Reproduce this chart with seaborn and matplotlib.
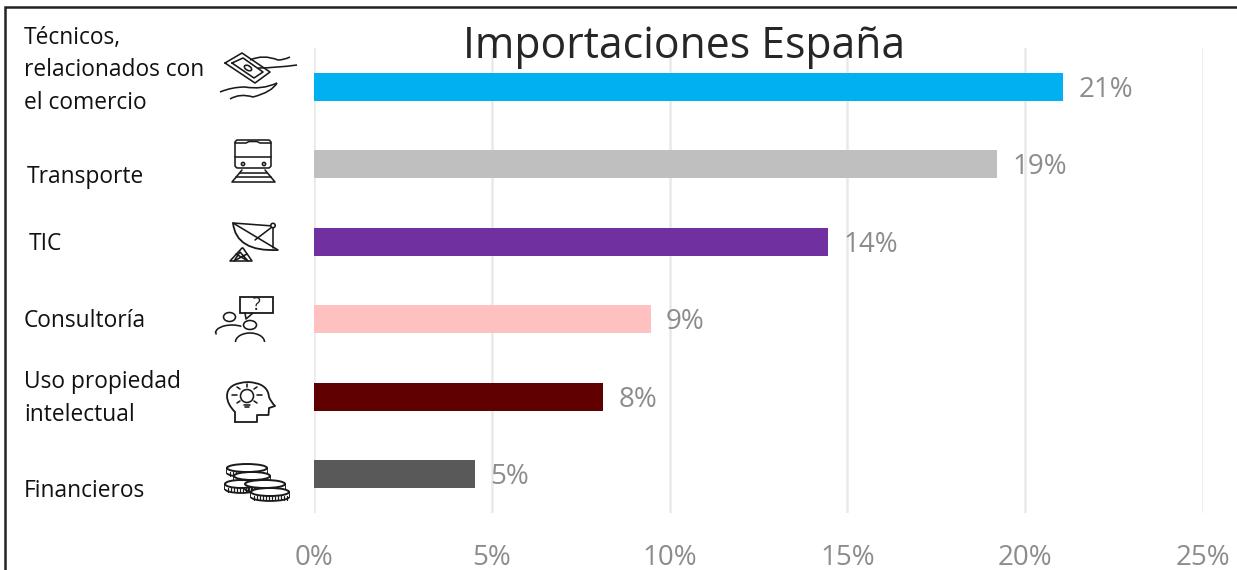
import matplotlib
matplotlib.use("Agg")
import matplotlib.pyplot as plt
import pandas as pd
import seaborn as sns
from matplotlib.path import Path
from matplotlib.patches import Circle, Ellipse, Arc, Rectangle, FancyBboxPatch, PathPatch

categories = ["Técnicos,\nrelacionados con\nel comercio", "Transporte", "TIC", "Consultoría",
              "Uso propiedad\nintelectual", "Financieros"]
values = [21.06, 19.2, 14.45, 9.47, 8.13, 4.53]
value_labels = ["21%", "19%", "14%", "9%", "8%", "5%"]
colors = ["#00B0F0", "#BFBFBF", "#7030A0", "#FFC0C0", "#600000", "#595959"]
ticks = [0, 5, 10, 15, 20, 25]
title = "Importaciones España"

W, H = 1237, 570
sns.set_theme(style="white")
plt.rcParams["font.family"] = ["Open Sans", "DejaVu Sans"]
fig = plt.figure(figsize=(W / 100, H / 100), dpi=100, facecolor="white")
ax = fig.add_axes([314 / W, 1 - 513 / H, (1203 - 314) / W, (513 - 48) / H])

df = pd.DataFrame({"cat": categories, "val": values})
sns.barplot(data=df, y="cat", x="val", hue="cat", palette=colors, dodge=False, width=0.36,
            legend=False, ax=ax, saturation=1, zorder=3, linewidth=0, edgecolor="none")
ax.set_xlim(0, 25)
ax.set_ylim(5.5, -0.5)
ax.set_xlabel("")
ax.set_ylabel("")
ax.set_yticks([])
ax.set_xticks(ticks)
ax.set_xticklabels([f"{t}%" for t in ticks], fontsize=20, color="#8C8C8C")
ax.tick_params(axis="x", length=0, pad=22)
ax.grid(axis="x", color="#E9E9E9", lw=1.8, zorder=0)
ax.set_axisbelow(True)
for s in ax.spines.values():
    s.set_visible(False)
for t in ax.get_xticklabels():
    t.set_clip_on(False)
for i, (v, lab) in enumerate(zip(values, value_labels)):
    ax.annotate(lab, (v, i), xytext=(11, -2), textcoords="offset points", va="center", ha="left",
                fontsize=20, color="#8C8C8C", zorder=5)

ov = fig.add_axes([0, 0, 1, 1], facecolor="none")
ov.set_xlim(0, W)
ov.set_ylim(H, 0)
ov.axis("off")

# frame (top and left only)
ov.plot([4.5, 4.5, W], [H, 7, 7], color="#222222", lw=1.8, solid_joinstyle="miter")

ov.text(684.5, 47, title, fontsize=30.8, color="#262626", ha="center", va="center")

label_pos = [(24, 70.5), (27, 177), (29, 244), (24, 321), (24, 398.5), (24, 491)]
for (x, y), c in zip(label_pos, categories):
    ov.text(x, y, c, fontsize=16.4, color="#111111", ha="left", va="center", linespacing=1.49)

K = "#1a1a1a"
LW = 1.15
def L(xs, ys, lw=LW):
    ov.plot(xs, ys, color=K, lw=lw, solid_capstyle="round", solid_joinstyle="round")
def P(p):
    ov.add_patch(p)
def Q(pts, lw=LW):
    # quadratic curve: start point, then pairs of control and end points
    codes = [Path.MOVETO] + [Path.CURVE3] * (len(pts) - 1)
    P(PathPatch(Path(pts, codes), fill=False, ec=K, lw=lw))

# hands with banknote
L([225, 242, 270, 255, 225], [63, 53, 72, 83, 63])
L([232, 243, 263, 254, 232], [63, 58, 72, 78, 63])
P(Ellipse((248, 68), 8, 4.5, angle=30, fill=False, ec=K, lw=LW))
Q([(250, 60), (263, 54), (278, 60), (284, 60), (290, 57)])
Q([(258, 68), (275, 68), (297, 65)])
Q([(220, 92), (232, 87), (245, 87), (262, 90), (277, 83)])
Q([(277, 83), (272, 92), (253, 97), (240, 93), (230, 99)])

# train
P(FancyBboxPatch((235, 140), 36, 28, boxstyle="round,pad=0,rounding_size=3", fill=False, ec=K, lw=LW))
L([235, 271], [157, 157])
L([235, 246, 249, 257, 260, 271], [143, 143, 141.5, 141.5, 143, 143])
P(Circle((243, 164), 1.6, fill=False, ec=K, lw=LW))
P(Circle((264, 164), 1.6, fill=False, ec=K, lw=LW))
L([242, 232, 275, 265], [170, 182, 182, 170])
L([240, 267], [173, 173])
L([236, 271], [177, 177])

# satellite dish
Q([(233, 223), (236, 252), (278, 250)], lw=1.3)
L([233, 278], [223, 250])
L([233, 273], [223, 226])
L([273, 273], [227, 248])
L([255, 272], [240, 227])
P(Circle((273, 225.5), 2.2, fc="white", ec=K, lw=LW, zorder=3))
L([242, 230, 252, 243], [248, 261, 261, 248])
L([236, 248, 240, 234, 247], [254, 261, 252, 261, 254])

# consultancy people
P(Rectangle((240, 297), 33, 16, fill=False, ec=K, lw=1.3))
L([245, 246, 253], [313, 319, 313])
ov.text(256.5, 305, "?", fontsize=13, color=K, ha="center", va="center")
P(Ellipse((229.5, 317), 12, 9, fill=False, ec=K, lw=LW))
P(Ellipse((250, 325), 13, 9, fill=False, ec=K, lw=LW))
P(Arc((232, 333), 33, 16, theta1=180, theta2=325, ec=K, lw=LW))
L([215.5, 215.5], [333, 334])
P(Arc((250, 342), 29, 18, theta1=180, theta2=360, ec=K, lw=LW))

# head with lightbulb
Q([(235, 412), (227, 404), (227, 396), (227, 383), (248, 382), (268, 383), (269, 397),
   (271, 402), (275, 406)], lw=1.3)
L([235, 235], [412, 422], lw=1.3)
L([275, 269, 268.5, 257, 257, 235], [406, 408, 415, 415, 422, 422], lw=1.3)
P(Circle((247, 396), 6.5, fill=False, ec=K, lw=LW))
L([244, 250], [405, 405])
L([245, 249], [407, 407])
for a, b, c, d in [(247, 384, 247, 387), (232, 395, 237, 395), (257, 395, 262, 395),
                   (237, 387, 240, 389), (257, 387, 254, 389), (237, 403, 240, 401), (257, 403, 254, 401)]:
    L([a, c], [b, d])

# coins
def coin(cx, cy, w):
    P(Ellipse((cx, cy + 5), w, 8, fc="white", ec=K, lw=1.3, zorder=3))
    P(Rectangle((cx - w / 2, cy), w, 5, fc="white", ec="none", zorder=3))
    L([cx - w / 2, cx - w / 2], [cy, cy + 5], lw=1.3)
    L([cx + w / 2, cx + w / 2], [cy, cy + 5], lw=1.3)
    for dx in range(-int(w / 2) + 3, int(w / 2) - 1, 3):
        ov.plot([cx + dx, cx + dx], [cy + 4, cy + 8], color=K, lw=0.9, zorder=3.5)
    P(Ellipse((cx, cy), w, 8, fc="white", ec=K, lw=1.4, zorder=4))
for cx, cy, w in [(241, 484, 32), (252, 476, 36), (247, 468, 40), (270, 492, 38), (265, 484, 40)]:
    coin(cx, cy, w)

fig.savefig("out.png", dpi=100)
